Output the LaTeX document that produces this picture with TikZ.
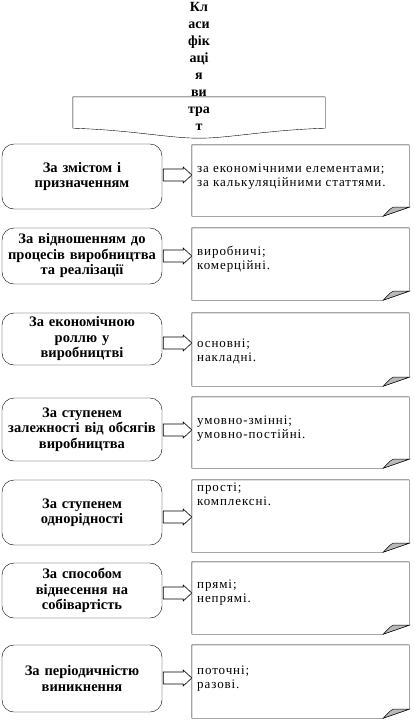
\documentclass[tikz,border=0pt]{standalone}
\usepackage{fontspec}
\setmainfont{Liberation Serif}
\usetikzlibrary{calc}
\begin{document}
\begin{tikzpicture}[x=1pt,y=-1pt,
  lbox/.style={draw,rounded corners=12pt,minimum width=160pt,inner sep=0pt,
    text width=158pt,align=center,font=\fontsize{14.5}{15.5}\selectfont\bfseries},
  rbox/.style={minimum width=217pt,inner sep=0pt},
  rtext/.style={anchor=west,align=left,inner sep=0pt,
    font=\fontsize{13}{14}\selectfont\addfontfeature{LetterSpace=7}},
  blockarr/.style={draw,fill=white,line width=0.6pt},
  flap/.style={draw,fill=gray!55,line width=0.5pt}]
\useasboundingbox (0,0) rectangle (414,721);

% title
\node[minimum width=252pt,minimum height=31pt,inner sep=0pt] (tbox) at (199,112.5) {};
\draw (tbox.south west) -- (tbox.north west) -- (tbox.north east) -- (tbox.south east)
  .. controls +(-60,2) and +(30,0) .. ($(tbox.south)+(0,10)$)
  .. controls +(-30,0) and +(60,2) .. (tbox.south west);
\node[align=center,inner sep=0pt,font=\fontsize{14}{17}\selectfont\bfseries] (title) at (199,66)
  {Кл\\аси\\фік\\аці\\я\\ви\\тра\\т};

\newcommand\rowbox[9]{%
  \node[lbox,minimum height=#3pt] (L#1) at (82,#2) {#8};
  \node[rbox,minimum height=#5pt] (R#1) at (300.5,#4) {};
  \draw (R#1.north west) -- (R#1.north east) -- ($(R#1.south east)+(0,-9)$)
     -- ($(R#1.south east)+(-26,0)$) -- (R#1.south west) -- cycle;
  \draw[flap] ($(R#1.south east)+(-26,0)$) .. controls +(4,-4) and +(-3,1) .. ($(R#1.south east)+(-16,-9)$)
     -- ($(R#1.south east)+(0,-9)$) -- cycle;
  \coordinate (A#1) at (L#1.east |- 0,#6);
  \draw[blockarr] ($(A#1)+(1,-6)$) -- ($(A#1)+(21,-6)$) -- ($(A#1)+(21,-8)$)
     -- ($(R#1.west |- A#1)$) -- ($(A#1)+(21,8)$) -- ($(A#1)+(21,6)$) -- ($(A#1)+(1,6)$) -- cycle;
  \node[rtext] (T#1) at (197,#7) {#9};
}

\rowbox{1}{176.5}{65}{180.5}{71}{175}{177}{За змістом і\\призначенням}{за економічними елементами;\\за калькуляційними статтями.}
\rowbox{2}{256}{56}{264}{72}{256}{259.5}{За відношенням до\\процесів виробництва\\та реалізації}{виробничі;\\комерційні.}
\rowbox{3}{339}{52}{349.5}{73}{343}{351}{За економічною\\роллю у\\виробництві}{основні;\\накладні.}
\rowbox{4}{429.5}{63}{432.5}{71}{430}{429}{За ступенем\\залежності від обсягів\\виробництва}{умовно-змінні;\\умовно-постійні.}
\rowbox{5}{512.5}{65}{516}{72}{517}{494}{За ступенем\\однорідності}{прості;\\комплексні.}
\rowbox{6}{590.5}{55}{598}{72}{593}{593}{За способом\\віднесення на\\собівартість}{прямі;\\непрямі.}
\rowbox{7}{678.5}{67}{681.5}{73}{678}{679}{За періодичністю\\виникнення}{поточні;\\разові.}
\end{tikzpicture}
\end{document}
